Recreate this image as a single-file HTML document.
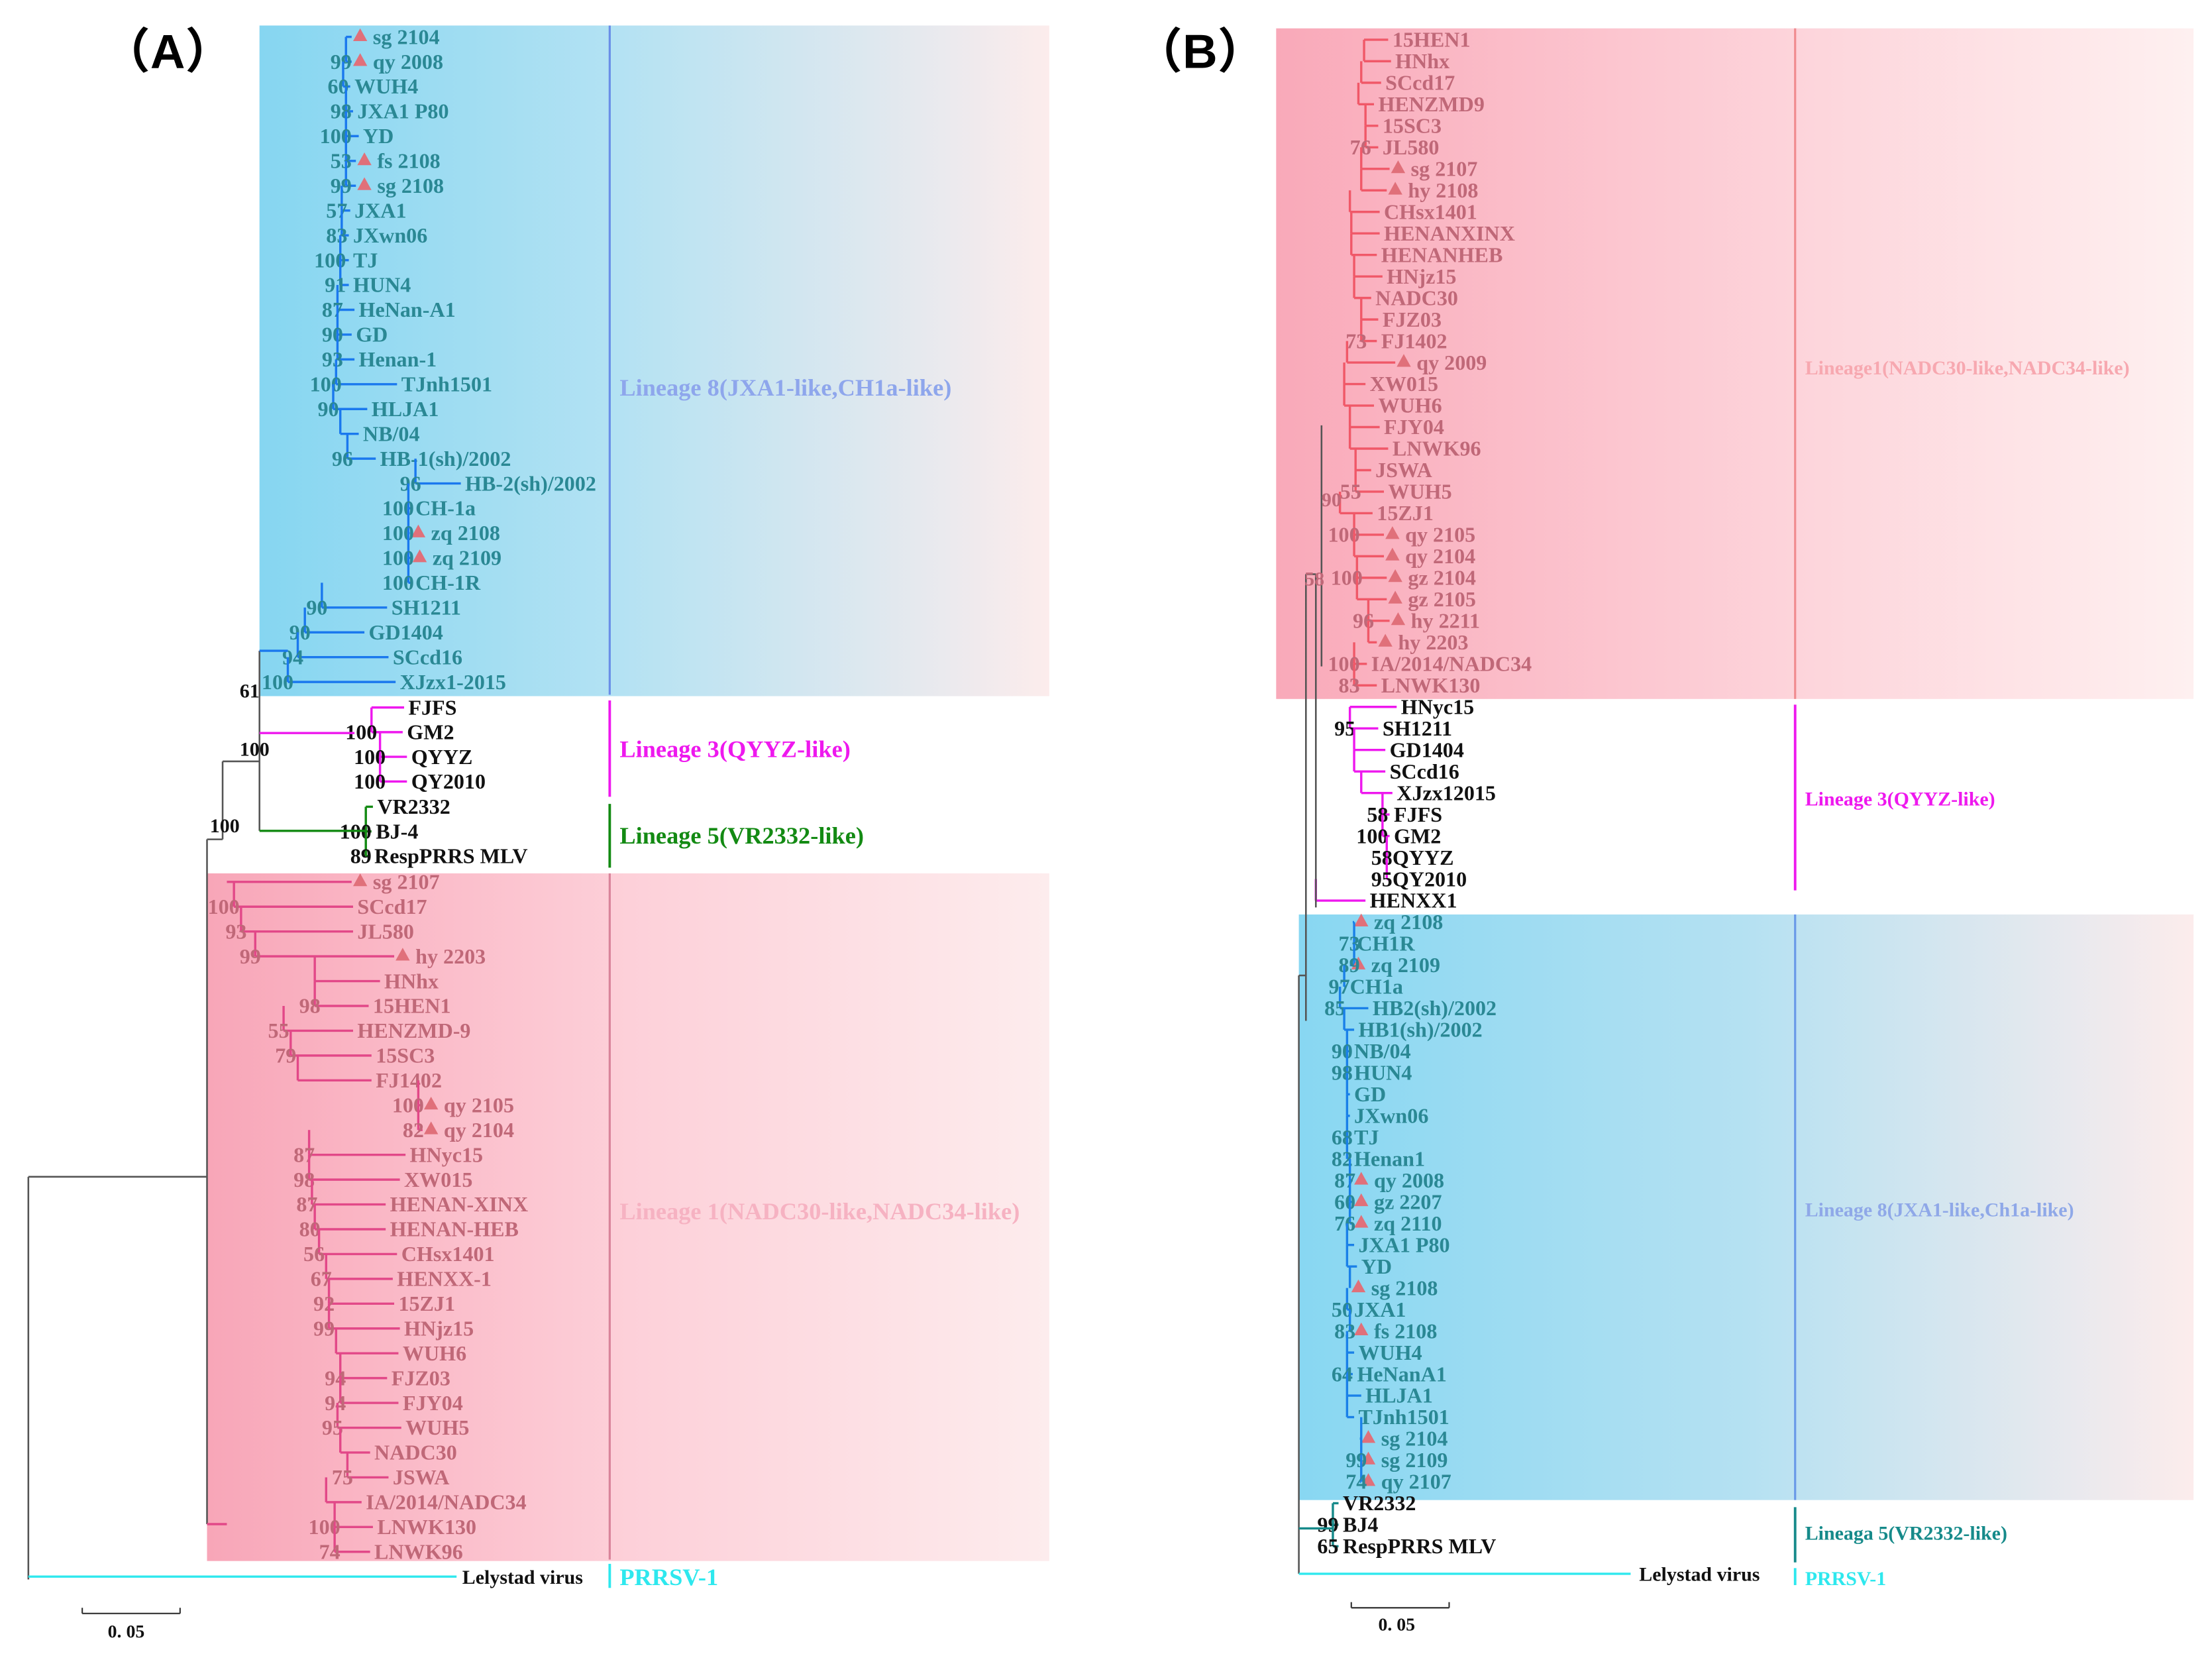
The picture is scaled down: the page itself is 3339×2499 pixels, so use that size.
<!DOCTYPE html>
<html><head><meta charset="utf-8"><style>
html,body{margin:0;padding:0;background:#fff}
svg{display:block}
text{font-family:"Liberation Serif",serif;font-weight:bold}
</style></head><body>
<svg id="fig" xmlns="http://www.w3.org/2000/svg" width="3339" height="2499" viewBox="0 0 1560 1168" preserveAspectRatio="none">
<defs>
<linearGradient id="gBlueA" x1="0" x2="1"><stop offset="0" stop-color="#86d6f1"/><stop offset="0.45" stop-color="#b3e2f3"/><stop offset="1" stop-color="#fcecec"/></linearGradient>
<linearGradient id="gPinkA" x1="0" x2="1"><stop offset="0" stop-color="#f8a6b8"/><stop offset="0.5" stop-color="#fdd0d9"/><stop offset="1" stop-color="#fdeced"/></linearGradient>
<linearGradient id="gPinkB" x1="0" x2="1"><stop offset="0" stop-color="#f9a9b9"/><stop offset="0.55" stop-color="#fdd3da"/><stop offset="1" stop-color="#fef0f0"/></linearGradient>
<linearGradient id="gBlueB" x1="0" x2="1"><stop offset="0" stop-color="#88d7f2"/><stop offset="0.5" stop-color="#b5e1f2"/><stop offset="1" stop-color="#fcecec"/></linearGradient>
</defs>
<rect x="183" y="18" width="557" height="473" fill="url(#gBlueA)"/>
<rect x="146" y="616" width="594" height="485" fill="url(#gPinkA)"/>
<rect x="900" y="20" width="647" height="473" fill="url(#gPinkB)"/>
<rect x="916" y="645" width="631" height="413" fill="url(#gBlueB)"/>
<text x="72" y="48" font-size="34" style="font-family:'Liberation Sans','Noto Sans CJK SC',sans-serif">（A）</text>
<text x="800" y="48" font-size="34" style="font-family:'Liberation Sans','Noto Sans CJK SC',sans-serif">（B）</text>
<g id="tree"></g>
</svg>
<script>
const a8Names=["sg 2104","qy 2008","WUH4","JXA1 P80","YD","fs 2108","sg 2108","JXA1","JXwn06","TJ","HUN4","HeNan-A1","GD","Henan-1","TJnh1501","HLJA1","NB/04","HB-1(sh)/2002","HB-2(sh)/2002","CH-1a","zq 2108","zq 2109","CH-1R","SH1211","GD1404","SCcd16","XJzx1-2015"];
const a8LabelX=[262,262,250,252,256,265,265,250,249,249,249,253,251,253,283,262,256,268,328,293,303,304,293,276,260,277,282];
const a8ParentX=[244,244,242,244,244,244,244,241,241,240,240,238,238,238,237,235,240,245,293,288,288,288,288,227,215,210,203];
const a8Tri=[1,1,0,0,0,1,1,0,0,0,0,0,0,0,0,0,0,0,0,0,1,1,0,0,0,0,0];
const a8Boot=["","99","60","98","100","53","99","57","83","100","91","87","90","93","100","90","","96","96","100","100","100","100","90","90","94","100"];
const a3Names=["FJFS","GM2","QYYZ","QY2010"];
const a3LabelX=[288,287,290,290];const a3ParentX=[262,262,268,268];const a3Boot=["","100","100","100"];
const a5Names=["VR2332","BJ-4","RespPRRS MLV"];
const a5LabelX=[266,265,264];const a5ParentX=[258,258,258];const a5Boot=["","100","89"];
const a1Names=["sg 2107","SCcd17","JL580","hy 2203","HNhx","15HEN1","HENZMD-9","15SC3","FJ1402","qy 2105","qy 2104","HNyc15","XW015","HENAN-XINX","HENAN-HEB","CHsx1401","HENXX-1","15ZJ1","HNjz15","WUH6","FJZ03","FJY04","WUH5","NADC30","JSWA","IA/2014/NADC34","LNWK130","LNWK96"];
const a1LabelX=[262,252,252,292,271,263,252,265,265,312,312,289,285,275,275,283,280,281,285,284,276,284,286,264,277,258,266,264];
const a1ParentX=[160,165,170,180,222,222,200,205,210,295,295,218,218,220,222,225,230,232,232,237,240,240,238,240,245,230,236,236];
const a1Tri=[1,0,0,1,0,0,0,0,0,1,1,0,0,0,0,0,0,0,0,0,0,0,0,0,0,0,0,0];
const a1Boot=["","100","93","99","","98","55","79","","100","82","87","98","87","80","56","67","92","99","","94","94","95","","75","","100","74"];
const b1Names=["15HEN1","HNhx","SCcd17","HENZMD9","15SC3","JL580","sg 2107","hy 2108","CHsx1401","HENANXINX","HENANHEB","HNjz15","NADC30","FJZ03","FJ1402","qy 2009","XW015","WUH6","FJY04","LNWK96","JSWA","WUH5","15ZJ1","qy 2105","qy 2104","gz 2104","gz 2105","hy 2211","hy 2203","IA/2014/NADC34","LNWK130"];
const b1LabelX=[982,984,977,972,975,975,994,992,976,976,974,978,970,975,974,998,966,972,976,982,970,979,971,990,990,992,992,994,985,967,974];
const b1ParentX=[962,962,960,958,963,963,960,960,952,953,953,955,955,960,960,950,948,948,952,952,956,956,945,955,955,957,957,965,965,955,955];
const b1Tri=[0,0,0,0,0,0,1,1,0,0,0,0,0,0,0,1,0,0,0,0,0,0,0,1,1,1,1,1,1,0,0];
const b1Boot=["","","","","","76","","","","","","","","","73","","","","","","","55","","100","","100","","96","","100","83"];
const b3Names=["HNyc15","SH1211","GD1404","SCcd16","XJzx12015","FJFS","GM2","QYYZ","QY2010","HENXX1"];
const b3LabelX=[988,975,980,980,985,983,983,982,982,966];
const b3ParentX=[952,952,955,955,960,975,975,978,978,928];
const b3Boot=["","95","","","","58","100","58","95",""];
const b8Names=["zq 2108","CH1R","zq 2109","CH1a","HB2(sh)/2002","HB1(sh)/2002","NB/04","HUN4","GD","JXwn06","TJ","Henan1","qy 2008","gz 2207","zq 2110","JXA1 P80","YD","sg 2108","JXA1","fs 2108","WUH4","HeNanA1","HLJA1","TJnh1501","sg 2104","sg 2109","qy 2107"];
const b8LabelX=[968,957,966,952,968,958,955,955,955,955,955,955,968,968,968,958,960,966,955,968,958,957,963,958,973,973,973];
const b8ParentX=[955,955,955,948,945,948,950,950,950,950,950,950,952,952,952,950,950,952,950,952,950,950,950,950,960,960,960];
const b8Tri=[1,0,1,0,0,0,0,0,0,0,0,0,1,1,1,0,0,1,0,1,0,0,0,0,1,1,1];
const b8Boot=["","73","89","97","85","","90","98","","","68","82","87","60","76","","","","50","83","","64","","","","99","74"];
const b5Names=["VR2332","BJ4","RespPRRS MLV"];
const b5LabelX=[947,947,947];const b5ParentX=[940,940,940];const b5Boot=["","99","65"];

const NS="http://www.w3.org/2000/svg";
const G=document.getElementById('tree');
function mk(tag,attrs){const e=document.createElementNS(NS,tag);for(const k in attrs)e.setAttribute(k,attrs[k]);G.appendChild(e);return e;}
function line(x1,y1,x2,y2,c,w){const e=mk('line',{x1:x1,y1:y1,x2:x2,y2:y2,stroke:c,'stroke-width':w||1.6});

return e;}
function txt(x,y,s,c,fs,anchor,name){const e=mk('text',{x:x,y:y,fill:c,'font-size':fs||14,'text-anchor':anchor||'start'});e.textContent=s;

return e;}
function tri(x,y,c){const e=mk('polygon',{points:(x-5)+','+(y+4)+' '+(x+5)+','+(y+4)+' '+x+','+(y-5),fill:c});

}
function clade(names,labelX,parentX,tris,boots,y0,dy,lineC,textC,bootC,fs){
  let ys=[];
  names.forEach((n,i)=>{
    const y=y0+i*dy;ys.push(y);
    const hasT=tris&&tris[i];
    const tip=labelX[i]-(hasT?14:3);
    line(parentX[i],y,tip,y,lineC);
    if(i>0)line(parentX[i],ys[i-1],parentX[i],y,lineC);
    if(hasT)tri(labelX[i]-8,y-1,'#e0707a');
    txt(labelX[i]+(hasT?1:0),y+5,n,textC,fs,'start','taxon-label');
    if(boots[i])txt(parentX[i]+4,y+5,boots[i],bootC,fs,'end','bootstrap-value');
  });
  return ys;
}
const teal='#2a8894', pinkT='#c06878';
clade(a8Names,a8LabelX,a8ParentX,a8Tri,a8Boot,26,17.5,'#1a78ee',teal,teal,15);
clade(a3Names,a3LabelX,a3ParentX,null,a3Boot,499,17.4,'#ee18ee','#111','#111',15);
clade(a5Names,a5LabelX,a5ParentX,null,a5Boot,569,17.4,'#138a13','#111','#111',15);
clade(a1Names,a1LabelX,a1ParentX,a1Tri,a1Boot,622,17.5,'#e24888',pinkT,pinkT,15);
line(20,830,20,1114,'#555',1.2);line(20,830,146,830,'#555',1.2);
line(146,592,146,1075,'#555',1.2);line(146,592,157,592,'#555',1.2);line(146,1075,160,1075,'#e24888');
line(157,537,157,592,'#555',1.2);line(157,537,183,537,'#555',1.2);
line(183,459,183,586,'#555',1.2);line(183,459,203,459,'#1a78ee');
line(183,517,250,517,'#ee18ee');line(183,586,258,586,'#138a13');
line(20,1112,322,1112,'#2ee8ee');
txt(326,1117,'Lelystad virus','#111',14,'start','taxon-label');
txt(183,492,'61','#111',14,'end','bootstrap-value');txt(190,533,'100','#111',14,'end','bootstrap-value');txt(169,587,'100','#111',14,'end','bootstrap-value');
line(430,18,430,490,'#6a8fe8',1.5);line(430,494,430,562,'#ee18ee',1.8);line(430,567,430,612,'#138a13',1.8);line(430,616,430,1100,'#d9849a',1.5);line(430,1103,430,1120,'#2ee8ee',1.8);
txt(437,279,'Lineage 8(JXA1-like,CH1a-like)','#8ea6ec',17,'start','lineage-label');
txt(437,534,'Lineage 3(QYYZ-like)','#ee18ee',17,'start','lineage-label');
txt(437,595,'Lineage 5(VR2332-like)','#138a13',17,'start','lineage-label');
txt(437,860,'Lineage 1(NADC30-like,NADC34-like)','#f6b2c2',17,'start','lineage-label');
txt(437,1118,'PRRSV-1','#2ee8ee',17,'start','lineage-label');
line(58,1138,127,1138,'#333',1);line(58,1134,58,1138,'#333',1);line(127,1134,127,1138,'#333',1);
txt(76,1155,'0. 05','#111',13,'start','scale-bar-label');
const dB=15.18;
clade(b1Names,b1LabelX,b1ParentX,b1Tri,b1Boot,28,dB,'#f05868',pinkT,pinkT,15);
clade(b3Names,b3LabelX,b3ParentX,null,b3Boot,28+31*dB,dB,'#ee18ee','#111','#111',15);
clade(b8Names,b8LabelX,b8ParentX,b8Tri,b8Boot,28+41*dB,dB,'#1a80e8',teal,teal,15);
clade(b5Names,b5LabelX,b5ParentX,null,b5Boot,28+68*dB,dB,'#168a8a','#111','#111',15);
line(916,688,916,1110,'#555',1.2);line(916,688,921,688,'#555',1.2);line(916,1078,940,1078,'#168a8a');
line(921,405,921,720,'#555',1.2);line(921,405,928,405,'#555',1.2);
line(928,405,928,640,'#555',1.2);line(932,300,932,470,'#555',1.2);
line(916,1110,1150,1110,'#2ee8ee');
txt(1156,1115,'Lelystad virus','#111',14,'start','taxon-label');
txt(934,413,'58','#c06878',14,'end','bootstrap-value');txt(946,357,'90','#c06878',14,'end','bootstrap-value');
line(1266,20,1266,493,'#f08c90',1.5);line(1266,497,1266,628,'#ee18ee',1.8);line(1266,645,1266,1058,'#6a9ae8',1.5);line(1266,1063,1266,1102,'#168a8a',1.8);line(1266,1106,1266,1118,'#2ee8ee',1.8);
txt(1273,264,'Lineage1(NADC30-like,NADC34-like)','#f7a8b0',14,'start','lineage-label');
txt(1273,568,'Lineage 3(QYYZ-like)','#ee18ee',14,'start','lineage-label');
txt(1273,858,'Lineage 8(JXA1-like,Ch1a-like)','#8fa8e8',14,'start','lineage-label');
txt(1273,1086,'Lineaga 5(VR2332-like)','#168a8a',14,'start','lineage-label');
txt(1273,1118,'PRRSV-1','#2ee8ee',14,'start','lineage-label');
line(953,1134,1022,1134,'#333',1);line(953,1130,953,1134,'#333',1);line(1022,1130,1022,1134,'#333',1);
txt(972,1150,'0. 05','#111',13,'start','scale-bar-label');
</script>
</body></html>
